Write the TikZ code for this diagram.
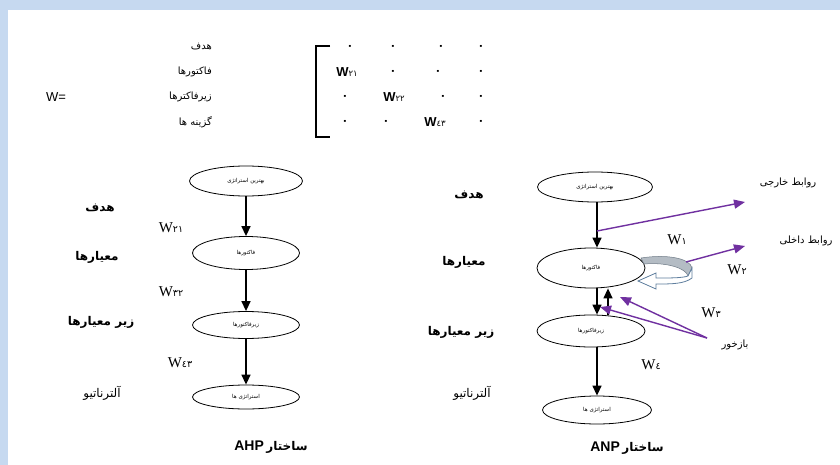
\documentclass[tikz,border=0pt]{standalone}
\usepackage{fontspec}
\setmainfont{Liberation Serif}
\newfontfamily\arabicfont[Script=Arabic]{DejaVu Sans}
\newfontfamily\arialfont{Liberation Sans}
\TeXXeTstate=1
\usetikzlibrary{shapes.geometric,arrows.meta,calc}
\definecolor{bandblue}{HTML}{C6D9F0}
\definecolor{vio}{HTML}{7030A0}
\definecolor{loopgray}{HTML}{B4BCC4}
\definecolor{loopdark}{HTML}{6F7B87}
\definecolor{arrowblue}{HTML}{5F7E9E}
\newcommand\pers[1]{{\arabicfont\beginR #1\endR}}
\newcommand\fsz[1]{\fontsize{#1}{#1}\selectfont}
\tikzset{
  mlab/.style={font=\arabicfont\fsz{10}, inner sep=0pt},
  mz/.style={font=\arabicfont\bfseries\fsz{11}, inner sep=0pt},
  blab/.style={font=\arabicfont\bfseries\fsz{12}, inner sep=0pt},
  rlab/.style={font=\arabicfont\fsz{12}, inner sep=0pt},
  wlab/.style={font=\fsz{15}, inner sep=0pt},
  ell/.style={draw, ellipse, inner sep=0pt, line width=0.8pt, font=\arabicfont\fsz{5.5}},
  arr/.style={-{Triangle[length=10pt,width=9pt]}, line width=1.4pt},
  parr/.style={-{Triangle[length=11pt,width=9pt]}, vio, line width=1.4pt},
  ttl/.style={inner sep=0pt},
}
\newcommand\wsub[1]{W{\arabicfont\fsz{9.5}#1}}
\newcommand\wbold[1]{{\arialfont\bfseries\fsz{13}W}{\arabicfont\fsz{8.5}#1}}
\begin{document}
\begin{tikzpicture}[x=1pt,y=-1pt]
\useasboundingbox (0,0) rectangle (840,465);
\fill[white] (0,0) rectangle (840,465);
\fill[bandblue] (0,0) rectangle (840,10);
\fill[bandblue] (0,0) rectangle (8,465);

% ---------- matrix ----------
\node[font=\arialfont\fsz{13}, inner sep=0pt] (weq) at (56,97) {W=};
\node[mlab, anchor=east] (m1) at (212,47) {\pers{هدف}};
\node[mlab, anchor=east] (m2) at (212,72) {\pers{فاکتورها}};
\node[mlab, anchor=east] (m3) at (212,97) {\pers{زیرفاکترها}};
\node[mlab, anchor=east] (m4) at (212,122) {\pers{گزینه ها}};
\draw[line width=1.2pt] (330,46) -- (316,46) -- (316,137) -- (330,137);
% row 1
\node[mz] (z11) at (350,47) {٠};
\node[mz] (z12) at (393,47) {٠};
\node[mz] (z13) at (441,47) {٠};
\node[mz] (z14) at (481,47) {٠};
% row 2
\node[inner sep=0pt] (z21) at (347,72) {\wbold{٢١}};
\node[mz] (z22) at (393,72) {٠};
\node[mz] (z23) at (438,72) {٠};
\node[mz] (z24) at (481,72) {٠};
% row 3
\node[mz] (z31) at (345,97) {٠};
\node[inner sep=0pt] (z32) at (394,97) {\wbold{٢٢}};
\node[mz] (z33) at (443,97) {٠};
\node[mz] (z34) at (481,97) {٠};
% row 4
\node[mz] (z41) at (345,122) {٠};
\node[mz] (z42) at (386,122) {٠};
\node[inner sep=0pt] (z43) at (435,122) {\wbold{٤٣}};
\node[mz] (z44) at (481,122) {٠};

% ---------- AHP ----------
\node[ell, minimum width=113, minimum height=30] (a1) at (246,181) {\pers{بهترین استراتژی}};
\node[ell, minimum width=107, minimum height=33] (a2) at (246,253) {\pers{فاکتورها}};
\node[ell, minimum width=107, minimum height=27] (a3) at (246,325) {\pers{زیرفاکتورها}};
\node[ell, minimum width=107, minimum height=24] (a4) at (246,397) {\pers{استراتژی ها}};
\draw[arr] (a1) -- (a2);
\draw[arr] (a2) -- (a3);
\draw[arr] (a3) -- (a4);
\node[blab] (ah1) at (100,208) {\pers{هدف}};
\node[blab] (ah2) at (97,257) {\pers{معیارها}};
\node[blab] (ah3) at (101,322) {\pers{زیر معیارها}};
\node[rlab] (ah4) at (102,393) {\pers{آلترناتیو}};
\node[wlab] (aw1) at (171,228) {\wsub{٢١}};
\node[wlab] (aw2) at (171,292) {\wsub{٣٢}};
\node[wlab] (aw3) at (180,363) {\wsub{٤٣}};
\node[ttl] (ahp) at (271,447) {{\arialfont\bfseries\fsz{14}AHP} {\arabicfont\bfseries\fsz{12}\beginR ساختار\endR}};

% ---------- ANP ----------
\node[ell, minimum width=115, minimum height=30] (e1) at (595,187) {\pers{بهترین استراتژی}};
\node[ell, minimum width=108, minimum height=40] (e2) at (591,268) {\pers{فاکتورها}};
\node[ell, minimum width=108, minimum height=32] (e3) at (591,331) {\pers{زیرفاکتورها}};
\node[ell, minimum width=109, minimum height=28] (e4) at (597,410) {\pers{استراتژی ها}};
\coordinate (ax) at (597,0);
\coordinate (bx) at (608,0);
\draw[arr] (ax |- e1.south) -- (ax |- e2.north);
\draw[arr] (ax |- e2.south) -- (ax |- e3.north);
\draw[arr] (bx |- e3.north) -- (bx |- e2.south);
\draw[arr] (ax |- e3.south) -- (ax |- e4.north);

\node[blab] (nh1) at (469,195) {\pers{هدف}};
\node[blab] (nh2) at (464,262) {\pers{معیارها}};
\node[blab] (nh3) at (461,332) {\pers{زیر معیارها}};
\node[rlab] (nh4) at (472,393) {\pers{آلترناتیو}};
\node[ttl] (anp) at (627,448) {{\arialfont\bfseries\fsz{14}ANP} {\arabicfont\bfseries\fsz{12}\beginR ساختار\endR}};

% self loop (curved arrow)
\fill[loopgray, draw=loopdark, line width=0.5pt] (641,258) .. controls (666,254) and (690,258) .. (692,268) -- (688,276) .. controls (686,268) and (666,262) .. (644,264) -- cycle;
\draw[arrowblue, fill=white, line width=0.8pt] (688,276) .. controls (682,278) and (672,278) .. (656,278) -- (656,273) -- (638,281) -- (656,289) -- (656,284) .. controls (672,284) and (684,284) .. (692,278) -- (692,268) -- cycle;

% purple relations
\coordinate (p1) at (597,231);
\coordinate (p1e) at (745,202);
\coordinate (p2) at (686,262);
\coordinate (p2e) at (745,246);
\coordinate (fb) at (707,338);
\coordinate (fb1) at (620,297);
\coordinate (fb2) at (600,307);
\draw[parr] (p1) -- (p1e);
\draw[parr] (p2) -- (p2e);
\draw[parr] (fb) -- (fb1);
\draw[parr] (fb) -- (fb2);
\node[mlab] (ext) at (788,183) {\pers{روابط خارجی}};
\node[mlab] (int) at (806,241) {\pers{روابط داخلی}};
\node[mlab] (fbl) at (735,345) {\pers{بازخور}};
\node[wlab] (nw1) at (677,240) {\wsub{١}};
\node[wlab] (nw2) at (737,270) {\wsub{٢}};
\node[wlab] (nw3) at (711,313) {\wsub{٣}};
\node[wlab] (nw4) at (651,365) {\wsub{٤}};
\end{tikzpicture}
\end{document}
